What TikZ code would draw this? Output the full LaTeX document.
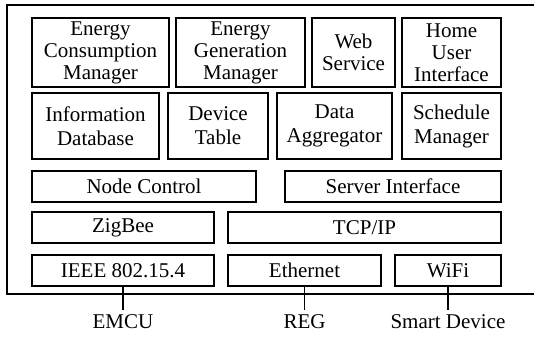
\documentclass[tikz,border=0pt]{standalone}
\usepackage{fontspec}
\setmainfont{Liberation Serif}
\begin{document}
\begin{tikzpicture}[x=1pt,y=-1pt,
  box/.style={draw, line width=1.6pt, inner sep=0pt, align=center,
    font=\fontsize{21}{22}\selectfont},
  tallbox/.style={box, font=\fontsize{21}{24}\selectfont},
  ext/.style={inner sep=0pt, text height=15pt, anchor=base,
    font=\fontsize{21}{22}\selectfont},
  link/.style={line width=1.6pt}]
\useasboundingbox (0,0) rectangle (534,337);

% outer frame (open on the right)
\draw[line width=2pt] (534,5) -- (7,5) -- (7,294) -- (534,294);

% application layer
\node[box, minimum width=137, minimum height=69] (ecm) at (100.5,52.5) {Energy\\Consumption\\Manager};
\node[box, minimum width=129, minimum height=69] (egm) at (240.5,52.5) {Energy\\Generation\\Manager};
\node[box, minimum width=83, minimum height=69] (web) at (353.5,52.5) {Web\\Service};
\node[box, minimum width=99, minimum height=69] (hui) at (451.5,52.5) {Home\\User\\Interface};

% data services
\node[tallbox, minimum width=127, minimum height=66] (idb) at (95.5,126) {Information\\Database};
\node[tallbox, minimum width=100, minimum height=66] (dtab) at (218,126) {Device\\Table};
\node[tallbox, minimum width=115, minimum height=66] (dagg) at (334.5,126) {Data\\Aggregator};
\node[tallbox, minimum width=99, minimum height=66] (sched) at (451.5,126) {Schedule\\Manager};

% control and interfaces
\node[box, minimum width=224, minimum height=31] (nctl) at (144,186.5) {Node Control};
\node[box, minimum width=216, minimum height=31] (srv) at (393,186.5) {Server Interface};

% network layer
\node[box, minimum width=182, minimum height=31] (zig) at (123,227.5) {ZigBee};
\node[box, minimum width=273, minimum height=31] (tcp) at (364.5,227.5) {TCP/IP};

% link layer
\node[box, minimum width=182, minimum height=31] (ieee) at (123,270.5) {IEEE 802.15.4};
\node[box, minimum width=153, minimum height=31] (eth) at (304.5,270.5) {Ethernet};
\node[box, minimum width=106, minimum height=31] (wifi) at (448,270.5) {WiFi};

% external devices
\node[ext] (emcu) at (123,328) {EMCU};
\node[ext] (reg) at (304.5,328) {REG};
\node[ext] (smart) at (448,328) {Smart Device};

\draw[link] (ieee.south) -- ([yshift=3pt]emcu.north);
\draw[link] (eth.south) -- ([yshift=3pt]reg.north);
\draw[link] (wifi.south) -- ([yshift=3pt]smart.north);
\end{tikzpicture}
\end{document}
